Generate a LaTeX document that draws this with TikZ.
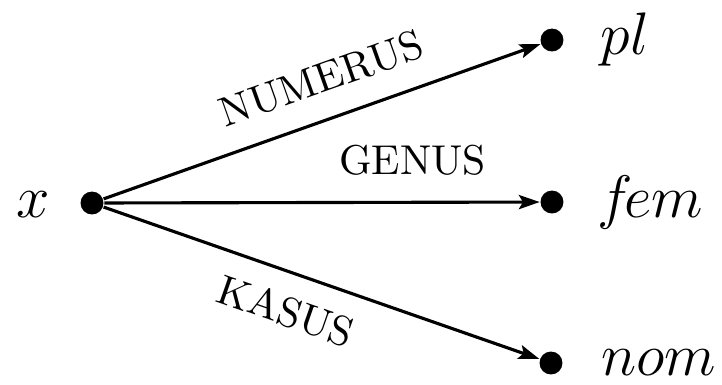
\documentclass[tikz,border=0pt]{standalone}
\usetikzlibrary{arrows.meta}
\begin{document}
\begin{tikzpicture}[x=0.24pt,y=-0.24pt,
  dot/.style={circle,fill=black,inner sep=0pt,minimum size=5.5pt},
  edge/.style={line width=0.75pt,-{Stealth[length=5pt,width=3.4pt,inset=1pt]}},
  lab/.style={font=\fontsize{13.5}{16}\selectfont, anchor=base, inner sep=0pt},
  elab/.style={font=\normalsize, sloped}]
\useasboundingbox (0,0) rectangle (722,384);
\node[dot] (x) at (92,203) {};
\node[dot] (pl) at (552,40) {};
\node[dot] (fem) at (552,202) {};
\node[dot] (nom) at (551,363) {};
\node[lab] (xl) at (33,217) {$x$};
\node[lab] (pll) at (625,54) {$pl$};
\node[lab] (feml) at (650,217) {$f\mkern-2.5mu em$};
\node[lab] (noml) at (659,375) {$nom$};
\draw[edge] (x) -- node[elab,above=2.5pt,pos=0.53] {NUMERUS} (pl);
\draw[edge] (x) -- node[elab,above=2.7pt,pos=0.708] {GENUS} (fem);
\draw[edge] (x) -- node[elab,below=1.7pt,pos=0.447] {KASUS} (nom);
\end{tikzpicture}
\end{document}
